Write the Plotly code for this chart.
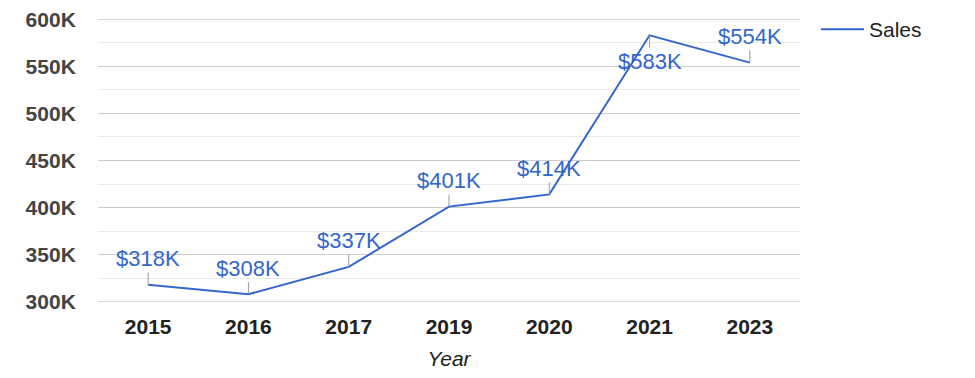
import plotly.graph_objects as go

years = ["2015", "2016", "2017", "2019", "2020", "2021", "2023"]
sales = [318000, 308000, 337000, 401000, 414000, 583000, 554000]
labels = ["$318K", "$308K", "$337K", "$401K", "$414K", "$583K", "$554K"]
label_below = [False, False, False, False, False, True, False]
y_tick_vals = [300000, 350000, 400000, 450000, 500000, 550000, 600000]
y_tick_text = ["300K", "350K", "400K", "450K", "500K", "550K", "600K"]
y_min, y_max = 300000, 600000

BLUE = "#3366CC"
FONT = "Arial, Liberation Sans, sans-serif"

fig = go.Figure()
fig.add_trace(go.Scatter(
    x=years, y=sales, mode="lines", name="Sales",
    line=dict(color=BLUE, width=2),
))

for i, (y, t, below) in enumerate(zip(sales, labels, label_below)):
    fig.add_annotation(
        x=i, y=y, xref="x", yref="y", text=t, showarrow=True, arrowhead=0,
        arrowwidth=1, arrowcolor="#999999", ax=0, ay=(26 if below else -26),
        standoff=0, font=dict(family=FONT, size=22, color=BLUE),
    )

# boundary grid lines (top and bottom of the value range)
for yv in (y_min, y_max):
    fig.add_shape(type="line", xref="paper", x0=0, x1=1, yref="y", y0=yv, y1=yv,
                  line=dict(color="#cccccc", width=1), layer="below")

pad = (y_max - y_min) * 0.001
fig.update_layout(
    width=975, height=378,
    margin=dict(l=90, r=183, t=11, b=84, autoexpand=False),
    paper_bgcolor="white", plot_bgcolor="white",
    font=dict(family=FONT),
    showlegend=True,
    legend=dict(x=1.0228, y=1.035, xanchor="left", yanchor="top",
                itemwidth=43,
                font=dict(family=FONT, size=21, color="#222222")),
    xaxis=dict(
        type="category", range=[-0.5, 6.5], automargin=False,
        showgrid=False, zeroline=False, showline=False,
        ticks="outside", ticklen=6, tickcolor="rgba(0,0,0,0)",
        tickfont=dict(family=FONT, size=21, color="#222222", weight="bold"),
        title=dict(text="Year", font=dict(family=FONT, size=21, color="#222222", style="italic"), standoff=14),
    ),
    yaxis=dict(
        range=[y_min - pad, y_max + pad], automargin=False,
        tickvals=y_tick_vals, ticktext=y_tick_text,
        ticklabeloverflow="allow",
        showgrid=True, gridcolor="#cccccc", gridwidth=1,
        zeroline=False, showline=False,
        ticks="outside", ticklen=17, tickcolor="rgba(0,0,0,0)",
        tickfont=dict(family=FONT, size=21, color="#444444", weight="bold"),
        minor=dict(dtick=25000, tick0=300000, showgrid=True, gridcolor="#ebebeb", gridwidth=1, ticks=""),
    ),
)

fig.write_html("out.html")
